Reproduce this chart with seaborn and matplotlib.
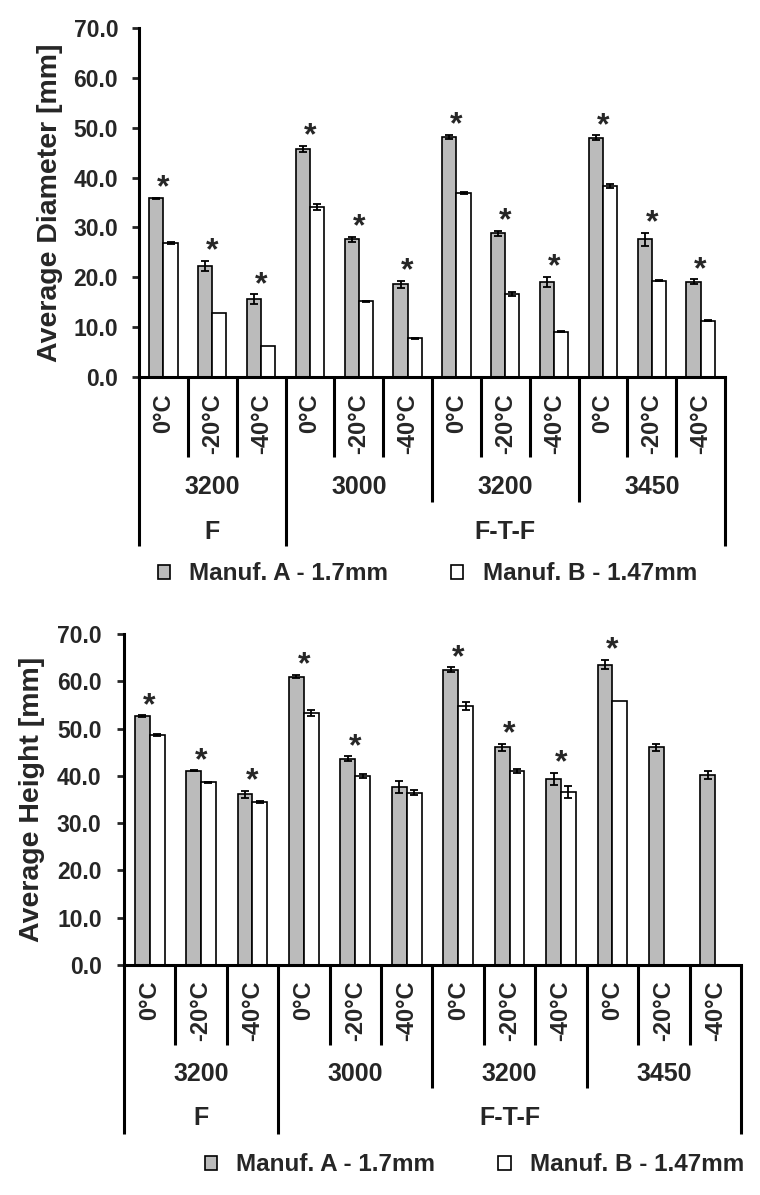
import numpy as np
import pandas as pd
import matplotlib
matplotlib.use('Agg')
import matplotlib.pyplot as plt
import matplotlib.transforms as mtransforms
from matplotlib.ticker import FormatStrFormatter
import seaborn as sns

# categories (hierarchical x axis)
temps = ['0°C', '-20°C', '-40°C']
loads = ['3200', '3000', '3200', '3450']
modes = ['F', 'F-T-F']
mode_span = [1, 3]          # number of load groups under each mode
makers = ['Manuf. A - 1.7mm', 'Manuf. B - 1.47mm']

# average diameter [mm]
diam_a = [35.9, 22.3, 15.6, 45.7, 27.6, 18.6, 48.2, 28.8, 19.1, 48.0, 27.6, 19.1]
diam_a_err = [0.1, 1.0, 1.0, 0.6, 0.5, 0.7, 0.4, 0.5, 1.0, 0.45, 1.3, 0.5]
diam_b = [26.8, 12.9, 6.2, 34.1, 15.2, 7.8, 37.0, 16.6, 9.1, 38.3, 19.3, 11.3]
diam_b_err = [0.2, 0.0, 0.0, 0.6, 0.1, 0.1, 0.2, 0.4, 0.1, 0.45, 0.1, 0.1]
diam_sig = [1, 1, 1, 1, 1, 1, 1, 1, 1, 1, 1, 1]

# average height [mm]
height_a = [52.6, 41.1, 36.1, 61.0, 43.6, 37.6, 62.4, 46.0, 39.3, 63.5, 46.0, 40.2]
height_a_err = [0.2, 0.05, 0.75, 0.4, 0.5, 1.2, 0.55, 0.8, 1.3, 1.0, 0.65, 0.8]
height_b = [48.6, 38.6, 34.5, 53.3, 39.9, 36.4, 54.8, 41.0, 36.6, 55.9, np.nan, np.nan]
height_b_err = [0.2, 0.1, 0.15, 0.55, 0.4, 0.5, 0.85, 0.5, 1.25, 0.0, np.nan, np.nan]
height_sig = [1, 1, 1, 1, 1, 0, 1, 1, 1, 1, 0, 0]

cats = [f'{g}_{t}' for g in range(len(loads)) for t in temps]

sns.set_style('white')
plt.rcParams['font.family'] = ['Liberation Sans', 'DejaVu Sans']
plt.rcParams['font.weight'] = 'bold'
plt.rcParams['axes.labelweight'] = 'bold'


def make_df(a, a_err, b, b_err):
    rows = []
    for i, c in enumerate(cats):
        rows.append((c, makers[0], a[i], a_err[i]))
        rows.append((c, makers[1], b[i], b_err[i]))
    df = pd.DataFrame(rows, columns=['cond', 'maker', 'value', 'err'])
    return df.dropna(subset=['value'])


def draw(ax, a, a_err, b, b_err, sig, ylabel, depths, txt_y, leg_xy, label_x, tick_pad):
    df = make_df(a, a_err, b, b_err)
    sns.barplot(data=df, x='cond', y='value', hue='maker', order=cats, hue_order=makers,
                palette=['#BBBBBB', 'white'], saturation=1, edgecolor='black',
                linewidth=1.2, width=0.58, errorbar=None, ax=ax)

    # error bars at the bar centres
    for cont, errs in zip(ax.containers, [a_err, b_err]):
        xs, ys, es = [], [], []
        for bar in cont:
            xc = bar.get_x() + bar.get_width() / 2
            i = int(round(xc))
            if np.isnan(errs[i]) or errs[i] <= 0:
                continue
            xs.append(xc)
            ys.append(bar.get_height())
            es.append(errs[i])
        ax.errorbar(xs, ys, yerr=es, fmt='none', ecolor='black', elinewidth=1.3,
                    capsize=3.2, capthick=1.3)

    # significance stars
    for i, s in enumerate(sig):
        if s:
            ax.annotate('*', xy=(i, a[i] + a_err[i]), xytext=(0, -4),
                        textcoords='offset points', ha='center', va='bottom',
                        fontsize=23)

    ax.set_xlim(-0.5, len(cats) - 0.5)
    ax.set_ylim(0, 70)
    ax.set_yticks(np.arange(0, 71, 10))
    ax.yaxis.set_major_formatter(FormatStrFormatter('%.1f'))
    ax.tick_params(axis='y', direction='out', length=5, width=2, pad=tick_pad,
                   labelsize=16.5, left=True)
    ax.set_xticks([])
    ax.set_xlabel('')
    ax.set_ylabel(ylabel, fontsize=20.5)
    ax.yaxis.set_label_coords(label_x, 0.5)
    sns.despine(ax=ax)
    for sp in ['left', 'bottom']:
        ax.spines[sp].set_linewidth(2.2)
        ax.spines[sp].set_color('black')

    # hierarchical category dividers
    trans = mtransforms.blended_transform_factory(ax.transData, ax.transAxes)
    mode_edges = set(np.cumsum([0] + mode_span) * len(temps))
    for k in range(len(cats) + 1):
        if k in mode_edges:
            d = depths[2]
        elif k % len(temps) == 0:
            d = depths[1]
        else:
            d = depths[0]
        ax.plot([k - 0.5, k - 0.5], [0, -d], transform=trans, color='black', lw=2.2,
                clip_on=False, solid_capstyle='butt')

    for i in range(len(cats)):
        ax.text(i, txt_y[0], temps[i % len(temps)], rotation=90, ha='center', va='top',
                fontsize=17, transform=trans)
    for g, name in enumerate(loads):
        ax.text(g * len(temps) + (len(temps) - 1) / 2, txt_y[1], name, ha='center',
                va='center', fontsize=18, transform=trans)
    start = 0
    for name, span in zip(modes, mode_span):
        xc = start * len(temps) + span * len(temps) / 2 - 0.5
        ax.text(xc, txt_y[2], name, ha='center', va='center', fontsize=18, transform=trans)
        start += span

    sns.move_legend(ax, 'center', bbox_to_anchor=leg_xy, ncol=2, title=None,
                    frameon=False, fontsize=17.5, handlelength=0.5, handleheight=0.5,
                    handletextpad=0.8, columnspacing=2.6)


fig = plt.figure(figsize=(7.6, 11.95), dpi=100)
ax1 = fig.add_axes([0.183, 0.6845, 0.771, 0.2921])
ax2 = fig.add_axes([0.163, 0.1925, 0.812, 0.2770])

draw(ax1, diam_a, diam_a_err, diam_b, diam_b_err, diam_sig, 'Average Diameter [mm]',
     depths=(0.229, 0.358, 0.484), txt_y=(-0.046, -0.315, -0.444),
     leg_xy=(0.492, -0.564), label_x=-0.13, tick_pad=10)
draw(ax2, height_a, height_a_err, height_b, height_b_err, height_sig, 'Average Height [mm]',
     depths=(0.242, 0.372, 0.511), txt_y=(-0.048, -0.329, -0.462),
     leg_xy=(0.568, -0.604), label_x=-0.128, tick_pad=11)

fig.savefig('out.png', dpi=100)
